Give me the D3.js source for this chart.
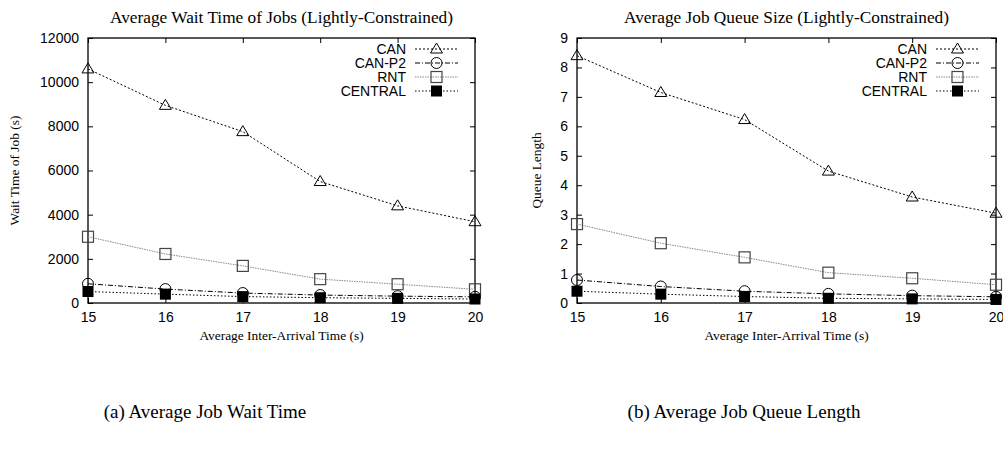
<!DOCTYPE html>
<html>
<head>
<meta charset="utf-8">
<script src="https://cdn.jsdelivr.net/npm/d3@7"></script>
<style>
  html, body { margin: 0; padding: 0; background: #fff; }
  svg { display: block; }
</style>
</head>
<body>
<svg id="fig" width="1003" height="455"></svg>
<script>
// Inter-arrival times on the x axis
const arrival = [15, 16, 17, 18, 19, 20];
const seriesNames = ["CAN", "CAN-P2", "RNT", "CENTRAL"];

// (a) average wait time of jobs, seconds
const waitCAN     = [10600, 8950, 7760, 5500, 4400, 3680];
const waitCANP2   = [870, 630, 450, 360, 310, 280];
const waitRNT     = [3000, 2220, 1680, 1080, 850, 620];
const waitCENTRAL = [520, 400, 290, 240, 210, 180];

// (b) average job queue length
const queueCAN     = [8.40, 7.15, 6.23, 4.48, 3.60, 3.05];
const queueCANP2   = [0.78, 0.56, 0.40, 0.31, 0.25, 0.21];
const queueRNT     = [2.68, 2.03, 1.55, 1.03, 0.84, 0.62];
const queueCENTRAL = [0.40, 0.30, 0.22, 0.16, 0.14, 0.12];

const waitTicks  = [0, 2000, 4000, 6000, 8000, 10000, 12000];
const queueTicks = [0, 1, 2, 3, 4, 5, 6, 7, 8, 9];

// line / marker look per series
const styles = {
  "CAN":     { stroke: "#000", dash: "2,2",       marker: "triangle" },
  "CAN-P2":  { stroke: "#000", dash: "5,2,1,2",   marker: "circle" },
  "RNT":     { stroke: "#888", dash: "1.5,1",     marker: "square" },
  "CENTRAL": { stroke: "#000", dash: "1.5,2",     marker: "filled" }
};

const sans  = "Liberation Sans, Arial, sans-serif";
const serif = "Liberation Serif, Times New Roman, serif";
const svg = d3.select("#fig");

function drawMarker(g, type, x, y) {
  if (type === "triangle") {
    g.append("path")
      .attr("d", `M${x},${y - 6} L${x + 6},${y + 4} L${x - 6},${y + 4} Z`)
      .attr("fill", "none").attr("stroke", "#000").attr("stroke-width", 1);
  } else if (type === "circle") {
    g.append("circle").attr("cx", x).attr("cy", y).attr("r", 5.5)
      .attr("fill", "none").attr("stroke", "#000").attr("stroke-width", 1);
  } else if (type === "square") {
    g.append("rect").attr("x", x - 5.5).attr("y", y - 5.5).attr("width", 11).attr("height", 11)
      .attr("fill", "none").attr("stroke", "#444").attr("stroke-width", 1.2);
  } else {
    g.append("rect").attr("x", x - 5.5).attr("y", y - 5.5).attr("width", 11).attr("height", 11)
      .attr("fill", "#000");
  }
}

function panel(opts) {
  const { left, right, top, bottom, yMax, yTicks, series, title, ylabel, ylabelX, legendX } = opts;
  const g = svg.append("g");
  const x = d3.scaleLinear().domain([15, 20]).range([left, right]);
  const y = d3.scaleLinear().domain([0, yMax]).range([bottom, top]);

  // axes with inward ticks, mirrored on the opposite sides
  const ax = [
    g.append("g").attr("transform", `translate(0,${bottom})`)
      .call(d3.axisBottom(x).tickValues(arrival).tickFormat(d3.format("d")).tickSizeInner(-5).tickSizeOuter(0).tickPadding(9)),
    g.append("g").attr("transform", `translate(${left},0)`)
      .call(d3.axisLeft(y).tickValues(yTicks).tickFormat(d3.format("d")).tickSizeInner(-5).tickSizeOuter(0).tickPadding(9)),
    g.append("g").attr("transform", `translate(0,${top})`)
      .call(d3.axisTop(x).tickValues(arrival).tickFormat("").tickSizeInner(-5).tickSizeOuter(0)),
    g.append("g").attr("transform", `translate(${right},0)`)
      .call(d3.axisRight(y).tickValues(yTicks).tickFormat("").tickSizeInner(-5).tickSizeOuter(0))
  ];
  ax.forEach(a => {
    a.select(".domain").remove();
    a.selectAll("line").attr("stroke", "#000");
    a.selectAll("text").attr("font-family", sans).attr("font-size", 14).attr("fill", "#000");
  });

  // frame
  g.append("rect").attr("x", left).attr("y", top).attr("width", right - left).attr("height", bottom - top)
    .attr("fill", "none").attr("stroke", "#000").attr("stroke-width", 1.3);

  const line = d3.line().x((d, i) => x(arrival[i])).y(d => y(d));
  series.forEach(([name, vals]) => {
    const s = styles[name];
    g.append("path").datum(vals).attr("d", line)
      .attr("fill", "none").attr("stroke", s.stroke).attr("stroke-width", 1)
      .attr("stroke-dasharray", s.dash);
  });
  series.forEach(([name, vals]) => {
    vals.forEach((v, i) => drawMarker(g, styles[name].marker, x(arrival[i]), y(v)));
  });

  // legend
  series.forEach(([name], i) => {
    const ly = 49 + i * 14;
    g.append("text").attr("x", legendX).attr("y", ly + 5).attr("text-anchor", "end")
      .attr("font-family", sans).attr("font-size", 14).text(name);
    const s = styles[name];
    g.append("line").attr("x1", legendX + 9).attr("x2", legendX + 52).attr("y1", ly).attr("y2", ly)
      .attr("stroke", s.stroke).attr("stroke-width", 1).attr("stroke-dasharray", s.dash);
    drawMarker(g, s.marker, legendX + 30.5, ly);
  });

  g.append("text").attr("x", (left + right) / 2).attr("y", 23).attr("text-anchor", "middle")
    .attr("font-family", serif).attr("font-size", 17.3).text(title);
  g.append("text").attr("x", (left + right) / 2).attr("y", 340).attr("text-anchor", "middle")
    .attr("font-family", serif).attr("font-size", 13.4).text("Average Inter-Arrival Time (s)");
  g.append("text").attr("transform", `translate(${ylabelX},${(top + bottom) / 2}) rotate(-90)`)
    .attr("text-anchor", "middle").attr("font-family", serif).attr("font-size", 13.4).text(ylabel);
}

panel({
  left: 88, right: 475, top: 38, bottom: 303, yMax: 12000, yTicks: waitTicks,
  series: [["CAN", waitCAN], ["CAN-P2", waitCANP2], ["RNT", waitRNT], ["CENTRAL", waitCENTRAL]],
  title: "Average Wait Time of Jobs (Lightly-Constrained)",
  ylabel: "Wait Time of Job (s)", ylabelX: 19, legendX: 406
});
panel({
  left: 577, right: 996, top: 38, bottom: 303, yMax: 9, yTicks: queueTicks,
  series: [["CAN", queueCAN], ["CAN-P2", queueCANP2], ["RNT", queueRNT], ["CENTRAL", queueCENTRAL]],
  title: "Average Job Queue Size (Lightly-Constrained)",
  ylabel: "Queue Length", ylabelX: 541, legendX: 927
});

// sub-figure captions
svg.append("text").attr("x", 205).attr("y", 418).attr("text-anchor", "middle")
  .attr("font-family", serif).attr("font-size", 19).text("(a) Average Job Wait Time");
svg.append("text").attr("x", 744).attr("y", 418).attr("text-anchor", "middle")
  .attr("font-family", serif).attr("font-size", 19).text("(b) Average Job Queue Length");
</script>
</body>
</html>
